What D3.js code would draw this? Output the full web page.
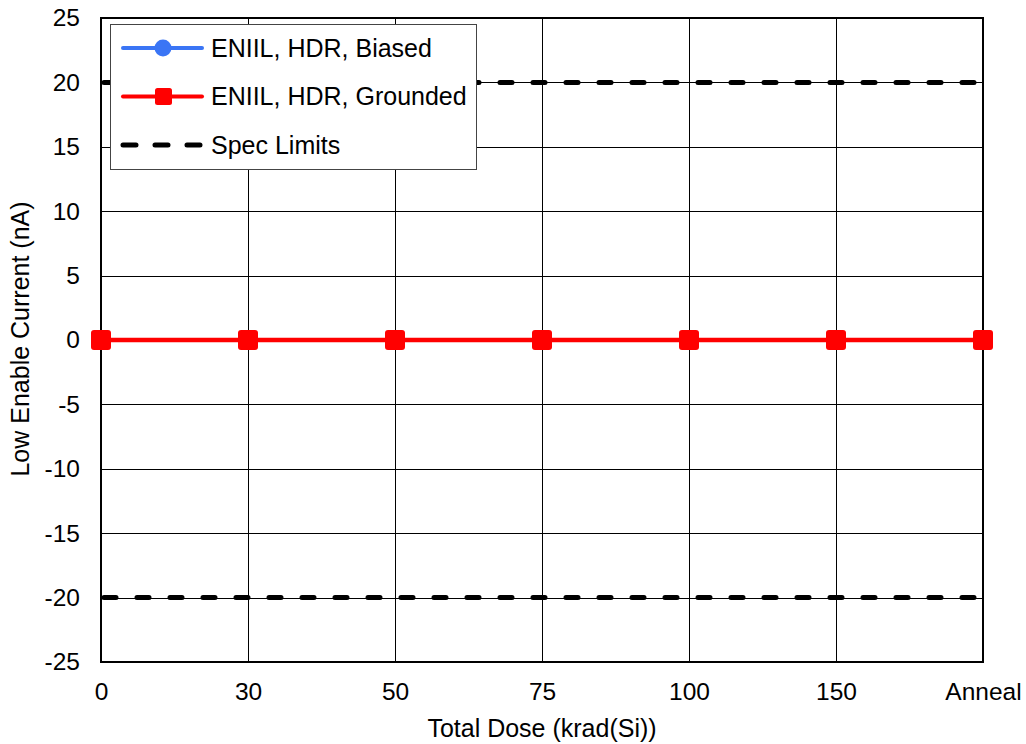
<!DOCTYPE html>
<html>
<head>
<meta charset="utf-8">
<script src="https://cdn.jsdelivr.net/npm/d3@7"></script>
<style>
  body { margin: 0; background: #fff; }
  svg { display: block; font-family: "Liberation Sans", Arial, sans-serif; }
</style>
</head>
<body>
<svg id="chart" width="1026" height="744"></svg>
<script>
// Total dose steps along the x axis
const doses = ["0", "30", "50", "75", "100", "150", "Anneal"];
// Low enable current (nA) for each device group
const biased = [0, 0, 0, 0, 0, 0, 0];
const grounded = [0, 0, 0, 0, 0, 0, 0];
// Upper and lower spec limits (nA)
const specLimits = [20, -20];
const yTicks = [-25, -20, -15, -10, -5, 0, 5, 10, 15, 20, 25];

const FS = 24.5;
const FS_T = 25;
const svg = d3.select("#chart");
const m = { left: 101, top: 18, right: 983, bottom: 662 };

const x = d3.scalePoint().domain(doses).range([m.left, m.right]);
const y = d3.scaleLinear().domain([-25, 25]).range([m.bottom, m.top]);
const crisp = v => Math.round(v) + 0.5;

// Grid
const grid = svg.append("g");
grid.selectAll("line.h").data(yTicks).join("line")
  .attr("x1", m.left).attr("x2", m.right)
  .attr("y1", d => crisp(y(d))).attr("y2", d => crisp(y(d)))
  .attr("stroke", "#000").attr("stroke-width", 1);
grid.selectAll("line.v").data(doses).join("line")
  .attr("x1", d => crisp(x(d))).attr("x2", d => crisp(x(d)))
  .attr("y1", m.top).attr("y2", m.bottom)
  .attr("stroke", "#000").attr("stroke-width", 1);

// Plot frame
svg.append("rect")
  .attr("x", m.left).attr("y", m.top)
  .attr("width", m.right - m.left).attr("height", m.bottom - m.top)
  .attr("fill", "none").attr("stroke", "#000").attr("stroke-width", 2);

// Axes (labels only)
const yAxis = svg.append("g")
  .attr("transform", `translate(${m.left},0)`)
  .call(d3.axisLeft(y).tickValues(yTicks).tickSize(0).tickPadding(21)
    .tickFormat(d => String(d)));
const xAxis = svg.append("g")
  .attr("transform", `translate(0,${m.bottom})`)
  .call(d3.axisBottom(x).tickSize(0).tickPadding(21));
[yAxis, xAxis].forEach(a => {
  a.select(".domain").remove();
  a.selectAll("text").attr("font-size", FS).attr("fill", "#000")
    .attr("font-family", "Liberation Sans, Arial, sans-serif");
});

// Spec limit lines
svg.append("g").selectAll("line").data(specLimits).join("line")
  .attr("x1", m.left + 3).attr("x2", m.right)
  .attr("y1", d => y(d)).attr("y2", d => y(d))
  .attr("stroke", "#000").attr("stroke-width", 5)
  .attr("stroke-dasharray", "12,21").attr("stroke-linecap", "round");

const line = d3.line().x((d, i) => x(doses[i])).y(d => y(d));

// Biased series
svg.append("path").datum(biased)
  .attr("d", line).attr("fill", "none")
  .attr("stroke", "#3a75f5").attr("stroke-width", 4);
svg.append("g").selectAll("circle").data(biased).join("circle")
  .attr("cx", (d, i) => x(doses[i])).attr("cy", d => y(d))
  .attr("r", 9).attr("fill", "#3a75f5");

// Grounded series
svg.append("path").datum(grounded)
  .attr("d", line).attr("fill", "none")
  .attr("stroke", "#ff0000").attr("stroke-width", 4.5);
svg.append("g").selectAll("rect").data(grounded).join("rect")
  .attr("x", (d, i) => x(doses[i]) - 10).attr("y", d => y(d) - 10)
  .attr("width", 20).attr("height", 20).attr("rx", 3)
  .attr("fill", "#ff0000");

// Axis titles
svg.append("text")
  .attr("x", 542).attr("y", 737)
  .attr("text-anchor", "middle").attr("font-size", FS_T)
  .text("Total Dose (krad(Si))");
svg.append("text")
  .attr("transform", `translate(29,339) rotate(-90)`)
  .attr("text-anchor", "middle").attr("font-size", FS_T)
  .text("Low Enable Current (nA)");

// Legend
const lg = svg.append("g");
lg.append("rect")
  .attr("x", 110.5).attr("y", 24.5).attr("width", 366).attr("height", 145)
  .attr("fill", "#fff").attr("stroke", "#444").attr("stroke-width", 1);
const items = [
  { label: "ENIIL, HDR, Biased", color: "#3a75f5", mark: "circle" },
  { label: "ENIIL, HDR, Grounded", color: "#ff0000", mark: "square" },
  { label: "Spec Limits", color: "#000", mark: "dash" }
];
items.forEach((it, i) => {
  const cy = 48 + i * 48.5;
  const l = lg.append("line")
    .attr("x1", 123).attr("x2", 202).attr("y1", cy).attr("y2", cy)
    .attr("stroke", it.color).attr("stroke-width", 4)
    .attr("stroke-linecap", "round");
  if (it.mark === "dash") l.attr("stroke-dasharray", "13,19").attr("stroke-width", 5);
  if (it.mark === "circle") {
    lg.append("circle").attr("cx", 163).attr("cy", cy).attr("r", 8.5).attr("fill", it.color);
  } else if (it.mark === "square") {
    lg.append("rect").attr("x", 155).attr("y", cy - 8.5).attr("width", 17).attr("height", 17)
      .attr("rx", 2.5).attr("fill", it.color);
  }
  lg.append("text").attr("x", 211).attr("y", cy + 8.5)
    .attr("font-size", FS_T).text(it.label);
});
</script>
</body>
</html>
